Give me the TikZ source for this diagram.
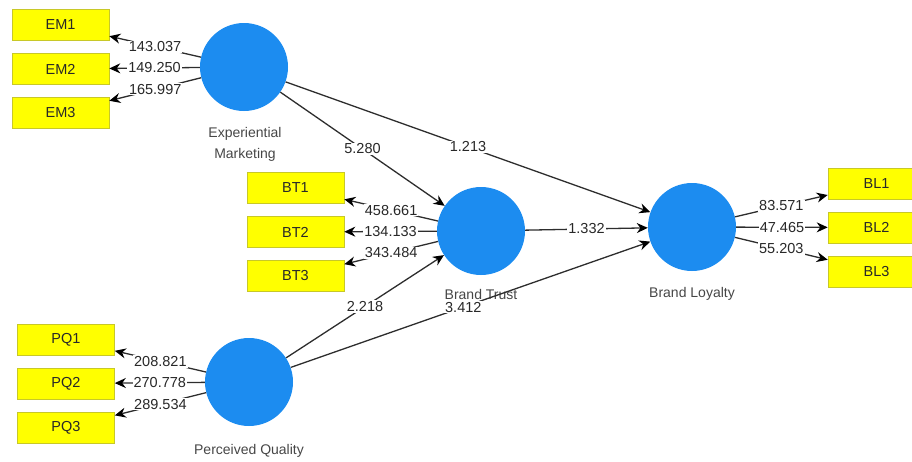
\documentclass[tikz,border=0pt]{standalone}
\usepackage{fontspec}
\setmainfont{Liberation Sans}
\usetikzlibrary{arrows.meta}
\definecolor{lvblue}{RGB}{28,140,240}
\definecolor{boxyel}{RGB}{255,255,0}
\definecolor{boxline}{RGB}{200,200,40}
\definecolor{txt}{RGB}{40,40,40}
\definecolor{lbl}{RGB}{70,70,70}
\definecolor{edge}{RGB}{45,45,45}
\tikzset{
  lv/.style={circle,fill=lvblue,draw=none,minimum size=88pt,inner sep=0pt},
  ind/.style={rectangle,fill=boxyel,draw=boxline,line width=0.6pt,minimum width=97pt,minimum height=31pt,inner sep=0pt,text=txt,font=\fontsize{14.5}{16}\selectfont},
  lvlabel/.style={text=lbl,align=center,font=\fontsize{14}{21}\selectfont,inner sep=0pt},
  num/.style={fill=white,text=txt,inner sep=1pt,font=\fontsize{14.5}{16}\selectfont},
  pth/.style={draw=edge,line width=1.3pt,-{Stealth[length=11pt,width=10pt,color=black]}}
}
\begin{document}
\begin{tikzpicture}[x=1pt,y=-1pt]
\useasboundingbox (0,0) rectangle (912,461);
\clip (0,0) rectangle (912,461);
% latent variables
\node[lv] (EM) at (244,67) {};
\node[lv] (BT) at (481,231) {};
\node[lv] (BL) at (692,227) {};
\node[lv] (PQ) at (249,382) {};
% indicators
\node[ind] (EM1) at (60.5,25) {EM1};
\node[ind] (EM2) at (60.5,69) {EM2};
\node[ind] (EM3) at (60.5,113) {EM3};
\node[ind] (BT1) at (295.5,188) {BT1};
\node[ind] (BT2) at (295.5,232) {BT2};
\node[ind] (BT3) at (295.5,276) {BT3};
\node[ind] (BL1) at (876.5,183.5) {BL1};
\node[ind] (BL2) at (876.5,227.5) {BL2};
\node[ind] (BL3) at (876.5,271.5) {BL3};
\node[ind] (PQ1) at (66,339.5) {PQ1};
\node[ind] (PQ2) at (66,383.5) {PQ2};
\node[ind] (PQ3) at (66,427.5) {PQ3};
% variable labels
\node[lvlabel] (EMl) at (245,144) {Experiential\\Marketing};
\node[lvlabel] (BTl) at (481,294) {Brand Trust};
\node[lvlabel] (BLl) at (692,294) {Brand Loyalty};
\node[lvlabel] (PQl) at (249,451) {Perceived Quality};
% outer loadings
\draw[pth] (EM) -- node[num]{143.037} (EM1);
\draw[pth] (EM) -- node[num]{149.250} (EM2);
\draw[pth] (EM) -- node[num]{165.997} (EM3);
\draw[pth] (BT) -- node[num]{458.661} (BT1);
\draw[pth] (BT) -- node[num]{134.133} (BT2);
\draw[pth] (BT) -- node[num]{343.484} (BT3);
\draw[pth] (BL) -- node[num]{83.571} (BL1);
\draw[pth] (BL) -- node[num]{47.465} (BL2);
\draw[pth] (BL) -- node[num]{55.203} (BL3);
\draw[pth] (PQ) -- node[num]{208.821} (PQ1);
\draw[pth] (PQ) -- node[num]{270.778} (PQ2);
\draw[pth] (PQ) -- node[num]{289.534} (PQ3);
% structural paths
\draw[pth] (EM) -- node[num]{5.280} (BT);
\draw[pth] (EM) -- node[num]{1.213} (BL);
\draw[pth] (BT) -- node[num]{1.332} (BL);
\draw[pth] (PQ) -- node[num]{2.218} (BT);
\draw[pth] (PQ) -- node[num,pos=0.48]{3.412} (BL);
\end{tikzpicture}
\end{document}
